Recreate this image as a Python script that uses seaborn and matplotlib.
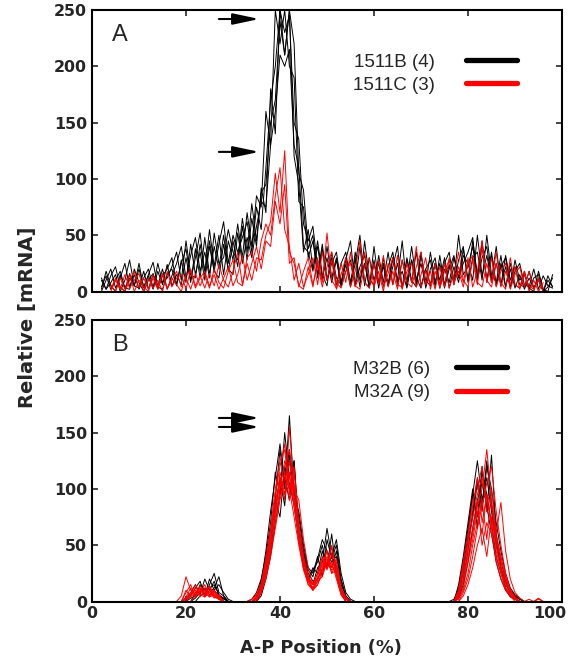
import numpy as np
import pandas as pd
import matplotlib
matplotlib.use("Agg")
import matplotlib.pyplot as plt
import matplotlib.transforms as mtransforms
from matplotlib.lines import Line2D
import seaborn as sns

# ---------------- data ----------------
# Panel A: x positions 2..98 (black, 1511B) and 4..96 (red, 1511C), step 1 %
a_black_start = 2
a_black_1 = [4, 14, 2, 10, 18, 3, 12, 5, 20, 4,
             14, 2, 18, 6, 24, 5, 15, 6, 30, 8,
             38, 12, 48, 15, 40, 20, 50, 18, 45, 22,
             58, 28, 65, 40, 92, 70, 180, 140, 250, 210,
             250, 120, 95, 35, 55, 20, 40, 12, 30, 8,
             28, 6, 24, 4, 35, 10, 25, 3, 40, 8,
             22, 5, 30, 8, 18, 3, 28, 6, 32, 10,
             5, 25, 3, 20, 8, 30, 12, 38, 10, 45,
             15, 40, 10, 35, 6, 25, 4, 20, 3, 15,
             2, 12, 3, 10, 0, 14, 4]
a_black_2 = [0, 10, 20, 3, 12, 25, 4, 15, 2, 12,
             20, 3, 25, 8, 12, 22, 35, 10, 45, 15,
             12, 42, 18, 55, 22, 50, 15, 45, 28, 60,
             30, 70, 40, 85, 75, 160, 130, 250, 220, 250,
             200, 190, 80, 75, 30, 45, 15, 42, 10, 25,
             35, 8, 28, 45, 5, 22, 32, 4, 25, 6,
             30, 5, 22, 40, 3, 28, 8, 35, 5, 20,
             28, 4, 32, 6, 24, 10, 50, 15, 22, 40,
             12, 45, 8, 32, 5, 22, 30, 4, 18, 25,
             6, 4, 20, 2, 14, 5, 3]
a_black_3 = [12, 2, 8, 15, 0, 10, 28, 5, 3, 18,
             2, 15, 5, 20, 2, 14, 25, 40, 12, 32,
             48, 18, 35, 12, 52, 25, 30, 55, 35, 28,
             65, 35, 78, 45, 88, 95, 150, 170, 240, 210,
             250, 220, 105, 90, 38, 50, 12, 38, 10, 30,
             6, 25, 35, 8, 30, 4, 45, 12, 5, 32,
             8, 35, 6, 25, 3, 30, 10, 4, 35, 3,
             20, 30, 5, 25, 35, 6, 28, 40, 8, 30,
             35, 10, 50, 15, 8, 32, 4, 25, 6, 3,
             18, 2, 12, 15, 0, 10, 4]
a_black_4 = [2, 18, 5, 0, 15, 3, 2, 20, 8, 0,
             10, 16, 2, 14, 20, 30, 6, 25, 38, 10,
             30, 52, 15, 45, 18, 42, 62, 25, 50, 35,
             48, 62, 35, 75, 55, 110, 170, 200, 250, 230,
             245, 150, 135, 60, 45, 58, 22, 10, 40, 12,
             30, 4, 18, 28, 6, 40, 5, 30, 10, 25,
             4, 22, 35, 5, 28, 8, 40, 10, 25, 5,
             35, 8, 25, 3, 20, 32, 12, 25, 35, 48,
             10, 30, 40, 8, 25, 5, 32, 10, 22, 6,
             4, 18, 3, 12, 0, 4, 12]
a_black_5 = [10, 2, 14, 22, 4, 0, 16, 5, 25, 3,
             15, 26, 4, 2, 15, 20, 5, 28, 8, 42,
             15, 35, 10, 40, 18, 12, 42, 20, 15, 52,
             25, 48, 30, 58, 80, 75, 130, 160, 210, 200,
             215, 130, 110, 40, 35, 18, 45, 15, 5, 35,
             12, 6, 30, 5, 25, 50, 8, 4, 28, 3,
             25, 6, 30, 10, 45, 4, 28, 12, 3, 20,
             6, 25, 10, 30, 3, 22, 8, 32, 25, 10,
             50, 14, 32, 10, 40, 6, 22, 3, 28, 10,
             15, 3, 0, 18, 2, 0, 15]

a_red_start = 4
a_red_1 = [6, 0, 12, 2, 15, 0, 10, 4, 0, 12,
           2, 15, 3, 10, 18, 4, 12, 2, 16, 5,
           15, 3, 20, 8, 3, 18, 28, 8, 5, 25,
           10, 30, 28, 50, 62, 105, 70, 125, 35, 25,
           5, 2, 22, 4, 30, 8, 52, 10, 3, 25,
           8, 35, 5, 2, 22, 30, 4, 18, 0, 25,
           6, 32, 2, 18, 25, 4, 15, 30, 2, 18,
           5, 25, 3, 15, 35, 10, 4, 28, 6, 40,
           10, 4, 25, 8, 2, 30, 6, 3, 18, 0,
           10, 0, 8]
a_red_2 = [0, 10, 2, 15, 3, 10, 16, 0, 12, 3,
           10, 0, 18, 4, 12, 15, 2, 20, 5, 14,
           3, 16, 5, 24, 10, 4, 18, 35, 6, 30,
           35, 18, 45, 60, 50, 85, 110, 55, 40, 10,
           25, 4, 15, 30, 6, 35, 10, 28, 2, 15,
           30, 4, 18, 45, 8, 3, 25, 6, 32, 4,
           18, 2, 28, 8, 4, 22, 35, 6, 18, 2,
           22, 4, 30, 8, 18, 4, 25, 32, 8, 4,
           25, 8, 35, 4, 18, 6, 22, 2, 15, 5,
           2, 12, 0]
a_red_3 = [2, 12, 4, 0, 10, 18, 3, 12, 2, 15,
           4, 16, 2, 12, 6, 0, 15, 18, 3, 12,
           18, 5, 15, 2, 12, 22, 5, 15, 32, 10,
           25, 40, 20, 45, 40, 80, 60, 95, 25, 30,
           4, 18, 30, 6, 24, 4, 22, 35, 8, 3,
           18, 25, 4, 15, 35, 10, 6, 28, 4, 16,
           30, 6, 4, 25, 8, 40, 4, 18, 6, 25,
           3, 18, 28, 6, 22, 8, 30, 4, 18, 45,
           8, 30, 4, 18, 25, 2, 15, 22, 4, 18,
           2, 10, 3]

# Panel B: x positions 18..97, step 1 %
b_start = 18
b_black_1 = [0, 0, 2, 8, 15, 6, 20, 10, 18, 5,
             3, 0, 0, 0, 0, 0, 2, 8, 20, 40,
             70, 115, 95, 150, 110, 125, 60, 45, 20, 28,
             35, 50, 30, 60, 25, 10, 2, 0, 0, 0,
             0, 0, 0, 0, 0, 0, 0, 0, 0, 0,
             0, 0, 0, 0, 0, 0, 0, 0, 0, 2,
             10, 30, 60, 95, 75, 120, 80, 130, 60, 35,
             20, 10, 5, 2, 0, 0, 0, 0, 0, 0]
b_black_2 = [0, 0, 0, 5, 12, 18, 5, 15, 25, 8,
             5, 0, 0, 0, 0, 0, 0, 3, 12, 30,
             55, 90, 135, 100, 165, 95, 80, 50, 30, 25,
             40, 22, 55, 38, 50, 20, 5, 0, 0, 0,
             0, 0, 0, 0, 0, 0, 0, 0, 0, 0,
             0, 0, 0, 0, 0, 0, 0, 0, 0, 0,
             5, 20, 45, 80, 110, 85, 125, 85, 55, 30,
             15, 8, 3, 0, 0, 0, 0, 0, 0, 0]
b_black_3 = [0, 0, 0, 0, 8, 12, 5, 20, 10, 15,
             8, 2, 0, 0, 0, 0, 0, 0, 8, 25,
             45, 80, 110, 85, 130, 95, 60, 35, 20, 30,
             25, 45, 30, 40, 25, 12, 3, 0, 0, 0,
             0, 0, 0, 0, 0, 0, 0, 0, 0, 0,
             0, 0, 0, 0, 0, 0, 0, 0, 0, 0,
             15, 40, 70, 100, 65, 115, 95, 70, 40, 25,
             12, 5, 2, 0, 0, 0, 0, 0, 0, 0]
b_black_4 = [0, 0, 0, 3, 5, 15, 10, 8, 12, 22,
             5, 0, 0, 0, 0, 0, 0, 2, 15, 35,
             60, 90, 75, 120, 105, 85, 55, 30, 22, 15,
             30, 35, 65, 40, 55, 25, 8, 2, 0, 0,
             0, 0, 0, 0, 0, 0, 0, 0, 0, 0,
             0, 0, 0, 0, 0, 0, 0, 0, 0, 0,
             8, 25, 55, 75, 105, 80, 120, 100, 70, 45,
             25, 12, 6, 3, 0, 0, 0, 0, 0, 0]
b_black_5 = [0, 0, 0, 0, 3, 8, 12, 6, 10, 5,
             2, 0, 0, 0, 0, 0, 0, 0, 5, 20,
             40, 70, 95, 110, 90, 125, 65, 40, 25, 18,
             20, 28, 35, 30, 45, 15, 5, 0, 0, 0,
             0, 0, 0, 0, 0, 0, 0, 0, 0, 0,
             0, 0, 0, 0, 0, 0, 0, 0, 0, 0,
             3, 15, 35, 65, 90, 105, 85, 60, 35, 20,
             10, 4, 2, 0, 0, 0, 0, 0, 0, 0]
b_black_6 = [0, 0, 0, 0, 0, 5, 8, 12, 15, 6,
             3, 0, 0, 0, 0, 0, 0, 4, 18, 45,
             80, 110, 140, 105, 135, 100, 75, 45, 28, 22,
             38, 55, 45, 35, 40, 18, 4, 0, 0, 0,
             0, 0, 0, 0, 0, 0, 0, 0, 0, 0,
             0, 0, 0, 0, 0, 0, 0, 0, 0, 0,
             12, 35, 65, 95, 125, 90, 110, 80, 50, 30,
             18, 8, 4, 2, 0, 0, 0, 0, 0, 0]

b_red_1 = [0, 5, 22, 10, 6, 12, 4, 8, 10, 3,
           0, 0, 0, 0, 0, 0, 0, 2, 8, 25,
           50, 85, 110, 90, 155, 100, 90, 55, 30, 15,
           20, 30, 45, 25, 35, 10, 2, 0, 0, 0,
           0, 0, 0, 0, 0, 0, 0, 0, 0, 0,
           0, 0, 0, 0, 0, 0, 0, 0, 0, 0,
           5, 18, 40, 60, 85, 100, 135, 90, 60, 40,
           20, 8, 3, 0, 0, 0, 0, 0, 0, 0]
b_red_2 = [0, 0, 8, 15, 4, 10, 6, 12, 5, 2,
           0, 0, 0, 0, 0, 0, 2, 6, 15, 35,
           60, 95, 120, 140, 100, 115, 70, 40, 20, 12,
           18, 35, 30, 50, 25, 8, 0, 0, 0, 0,
           0, 0, 0, 0, 0, 0, 0, 0, 0, 0,
           0, 0, 0, 0, 0, 0, 0, 0, 0, 0,
           10, 30, 55, 85, 110, 70, 95, 65, 35, 20,
           10, 5, 0, 0, 0, 2, 0, 0, 0, 0]
b_red_3 = [0, 0, 0, 5, 12, 8, 15, 5, 10, 4,
           0, 0, 0, 0, 0, 0, 0, 5, 12, 28,
           55, 75, 100, 125, 110, 85, 60, 35, 20, 15,
           25, 40, 30, 35, 20, 6, 0, 0, 0, 0,
           0, 0, 0, 0, 0, 0, 0, 0, 0, 0,
           0, 0, 0, 0, 0, 0, 0, 0, 0, 0,
           2, 10, 25, 50, 70, 90, 55, 100, 60, 88,
           45, 20, 8, 3, 0, 0, 0, 0, 0, 0]
b_red_4 = [0, 0, 3, 8, 5, 14, 8, 4, 6, 2,
           0, 0, 0, 0, 0, 0, 0, 3, 10, 22,
           45, 70, 95, 115, 90, 105, 55, 30, 18, 12,
           20, 28, 40, 32, 25, 8, 2, 0, 0, 0,
           0, 0, 0, 0, 0, 0, 0, 0, 0, 0,
           0, 0, 0, 0, 0, 0, 0, 0, 0, 0,
           0, 8, 20, 40, 65, 85, 105, 120, 80, 50,
           25, 10, 4, 0, 0, 0, 0, 3, 0, 0]
b_red_5 = [0, 0, 0, 6, 10, 4, 12, 8, 3, 6,
           0, 0, 0, 0, 0, 0, 0, 2, 12, 30,
           58, 90, 105, 120, 135, 95, 65, 38, 22, 10,
           15, 25, 35, 48, 30, 12, 3, 0, 0, 0,
           0, 0, 0, 0, 0, 0, 0, 0, 0, 0,
           0, 0, 0, 0, 0, 0, 0, 0, 0, 0,
           8, 25, 50, 75, 95, 110, 90, 70, 45, 28,
           12, 6, 2, 0, 0, 0, 0, 0, 0, 0]
b_red_6 = [0, 0, 10, 4, 8, 12, 6, 10, 4, 2,
           0, 0, 0, 0, 0, 0, 0, 4, 14, 32,
           62, 80, 115, 95, 125, 90, 60, 32, 15, 12,
           22, 38, 28, 42, 22, 6, 0, 0, 0, 0,
           0, 0, 0, 0, 0, 0, 0, 0, 0, 0,
           0, 0, 0, 0, 0, 0, 0, 0, 0, 0,
           3, 12, 35, 55, 80, 60, 95, 85, 55, 35,
           18, 8, 3, 0, 0, 0, 0, 0, 0, 0]
b_red_7 = [0, 0, 0, 0, 5, 10, 8, 14, 6, 3,
           0, 0, 0, 0, 0, 0, 0, 0, 8, 20,
           40, 65, 90, 110, 100, 75, 50, 28, 15, 10,
           18, 22, 35, 28, 32, 10, 2, 0, 0, 0,
           0, 0, 0, 0, 0, 0, 0, 0, 0, 0,
           0, 0, 0, 0, 0, 0, 0, 0, 0, 0,
           6, 20, 45, 65, 90, 50, 70, 60, 40, 25,
           12, 5, 2, 0, 0, 0, 0, 0, 0, 0]
b_red_8 = [0, 0, 4, 12, 6, 8, 10, 4, 8, 5,
           0, 0, 0, 0, 0, 0, 2, 6, 16, 38,
           65, 100, 125, 135, 95, 120, 65, 40, 22, 15,
           25, 32, 45, 30, 38, 12, 4, 0, 0, 0,
           0, 0, 0, 0, 0, 0, 0, 0, 0, 0,
           0, 0, 0, 0, 0, 0, 0, 0, 0, 0,
           10, 35, 60, 90, 100, 120, 80, 75, 50, 30,
           15, 6, 2, 0, 0, 0, 0, 0, 0, 0]
b_red_9 = [0, 0, 2, 6, 15, 6, 4, 10, 8, 2,
           0, 0, 0, 0, 0, 0, 0, 2, 10, 25,
           50, 80, 105, 95, 115, 85, 55, 30, 18, 10,
           15, 28, 38, 25, 28, 8, 0, 0, 0, 0,
           0, 0, 0, 0, 0, 0, 0, 0, 0, 0,
           0, 0, 0, 0, 0, 0, 0, 0, 0, 0,
           0, 5, 15, 30, 50, 65, 40, 75, 55, 40,
           22, 10, 3, 0, 0, 0, 0, 2, 0, 0]

labels_a = ["1511B (4)", "1511C (3)"]
labels_b = ["M32B (6)", "M32A (9)"]
colors = ["#000000", "#ff0000"]
x_ticks = [0, 20, 40, 60, 80, 100]
y_ticks = [0, 50, 100, 150, 200, 250]
arrows_a = [242, 124]      # arrow heights, panel A
arrows_b = [163, 155]      # arrow heights, panel B
arrow_x = (27.0, 35.6)


def long_form(traces, start, group):
    rows = []
    for k, vals in enumerate(traces):
        xs = np.arange(start, start + len(vals))
        rows.append(pd.DataFrame({"x": xs, "y": vals,
                                  "trace": f"{group}-{k}", "group": group}))
    return pd.concat(rows, ignore_index=True)


dfa_black = long_form([a_black_1, a_black_2, a_black_3, a_black_4, a_black_5],
                      a_black_start, labels_a[0])
dfa_red = long_form([a_red_1, a_red_2, a_red_3], a_red_start, labels_a[1])
dfb_black = long_form([b_black_1, b_black_2, b_black_3, b_black_4, b_black_5,
                       b_black_6], b_start, labels_b[0])
dfb_red = long_form([b_red_1, b_red_2, b_red_3, b_red_4, b_red_5, b_red_6,
                     b_red_7, b_red_8, b_red_9], b_start, labels_b[1])

# ---------------- figure ----------------
sns.set_style("ticks")
plt.rcParams["font.family"] = ["DejaVu Sans"]

W, H = 569, 667
fig = plt.figure(figsize=(W / 100, H / 100), dpi=100)
axA = fig.add_axes([92 / W, 1 - 291.5 / H, 470 / W, 281.5 / H])
axB = fig.add_axes([92 / W, 1 - 601.5 / H, 470 / W, 281.5 / H])

lw = 0.7
for ax, dblack, dred in [(axA, dfa_black, dfa_red), (axB, dfb_black, dfb_red)]:
    sns.lineplot(data=dblack, x="x", y="y", units="trace", estimator=None,
                 color=colors[0], lw=lw, ax=ax, legend=False)
    sns.lineplot(data=dred, x="x", y="y", units="trace", estimator=None,
                 color=colors[1], lw=lw, ax=ax, legend=False)

legend_font = {"family": "Liberation Sans", "size": 13.5}
for ax, labels, arrows, letter, anchor, tpad in [
        (axA, labels_a, arrows_a, "A", (0.904, 0.845), 1.7),
        (axB, labels_b, arrows_b, "B", (0.883, 0.855), 1.4)]:
    ax.set_xlim(0, 100)
    ax.set_ylim(0, 250)
    ax.set_xticks(x_ticks)
    ax.set_yticks(y_ticks)
    ax.set_xlabel("")
    ax.set_ylabel("")
    ax.tick_params(direction="in", length=4.5, width=1.2, top=True, right=True,
                   labelsize=11.4, pad=3.5)
    for lab in ax.get_xticklabels() + ax.get_yticklabels():
        lab.set_fontweight("bold")
    for sp in ax.spines.values():
        sp.set_visible(True)
        sp.set_linewidth(1.5)
        sp.set_color("black")
    handles = [Line2D([], [], color=c, lw=3.8) for c in colors]
    ax.legend(handles, labels, loc="upper right", bbox_to_anchor=anchor,
              frameon=False, markerfirst=False, prop=legend_font,
              handlelength=2.7, handletextpad=tpad, labelspacing=0.32,
              borderpad=0, borderaxespad=0)
    ax.text(0.06, 0.91, letter, transform=ax.transAxes, ha="center",
            va="center", fontsize=17, family="Liberation Sans")
    for yv in arrows:
        ax.annotate("", xy=(arrow_x[1], yv), xytext=(arrow_x[0], yv),
                    arrowprops=dict(arrowstyle="-|>,head_length=0.8,head_width=0.17",
                                    mutation_scale=20, color="black", lw=1.5,
                                    shrinkA=0, shrinkB=0))

axA.tick_params(labelbottom=False)

# the last x tick label sits slightly left of its tick, as in the reference
last = axB.get_xticklabels()[-1]
last.set_transform(last.get_transform() +
                   mtransforms.ScaledTranslation(-0.12, 0, fig.dpi_scale_trans))

fig.text(321 / W, 1 - 648 / H, "A-P Position (%)", ha="center", va="center",
         fontsize=12.8, fontweight="bold")
fig.text(28 / W, 1 - 317 / H, "Relative [mRNA]", ha="center", va="center",
         rotation=90, fontsize=14, fontweight="bold")

fig.savefig("out.png", dpi=100)
